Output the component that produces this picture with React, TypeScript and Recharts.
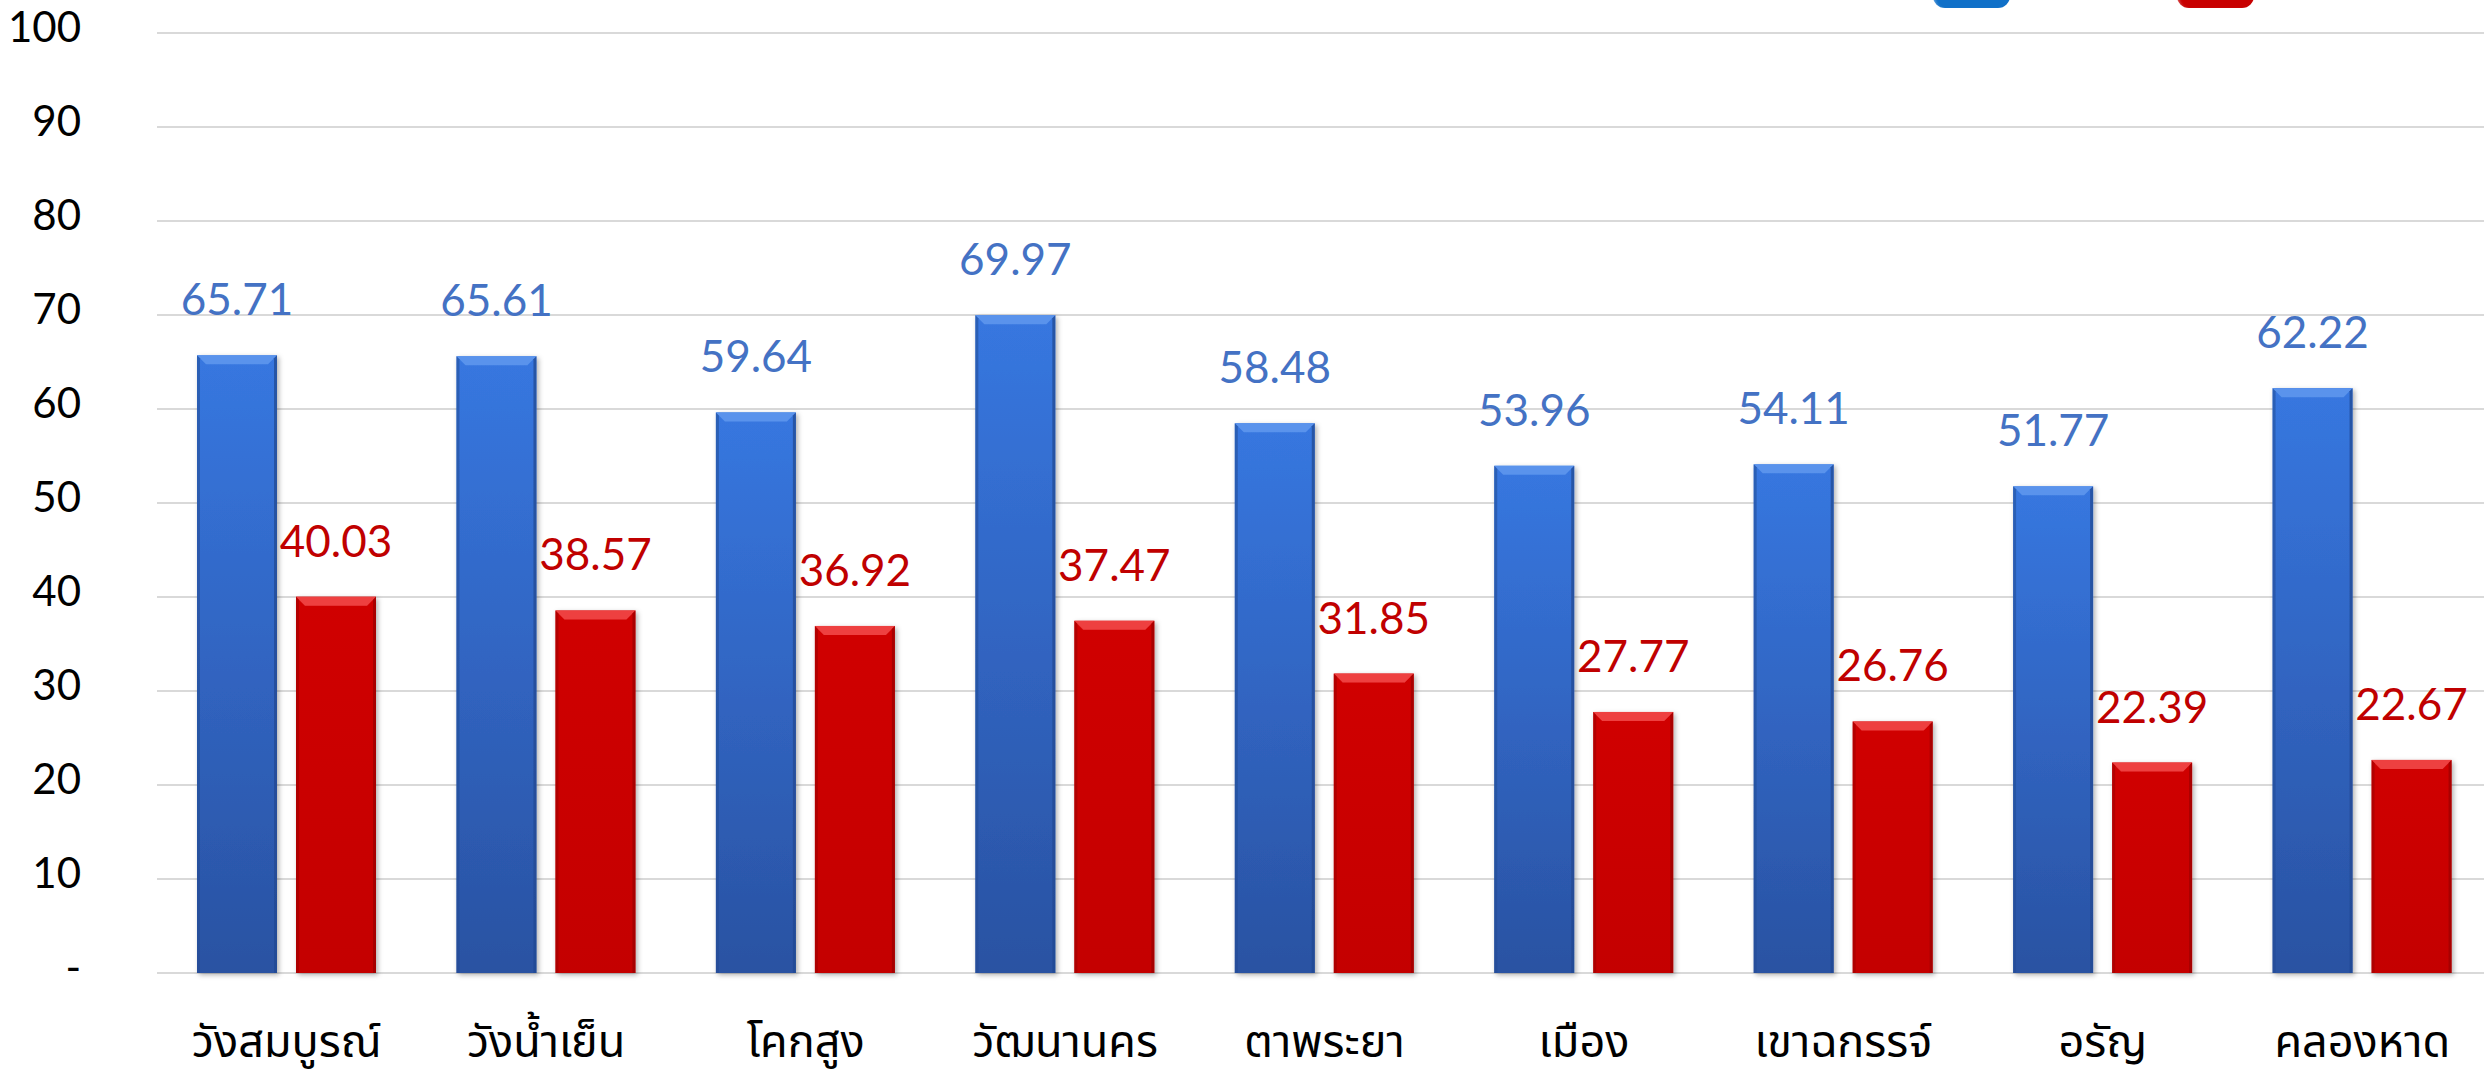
import React from 'react';
import { BarChart, Bar, XAxis, YAxis, CartesianGrid, LabelList } from 'recharts';

const categories = ['วังสมบูรณ์', 'วังน้ำเย็น', 'โคกสูง', 'วัฒนานคร', 'ตาพระยา', 'เมือง', 'เขาฉกรรจ์', 'อรัญ', 'คลองหาด'];
const blueValues = [65.71, 65.61, 59.64, 69.97, 58.48, 53.96, 54.11, 51.77, 62.22];
const redValues = [40.03, 38.57, 36.92, 37.47, 31.85, 27.77, 26.76, 22.39, 22.67];
const seriesNames = ['ชุดที่ 1', 'ชุดที่ 2'];
const yTicks = [0, 10, 20, 30, 40, 50, 60, 70, 80, 90, 100];

const data = categories.map((name, i) => ({ name, blue: blueValues[i], red: redValues[i] }));

const NUM_FONT = 'Lato, "Noto Sans", sans-serif';
const THAI_FONT = '"Noto Sans Thai", "Noto Sans Thai Looped", "Noto Sans", sans-serif';

const palette = {
  blue: { top: '#3777E0', bottom: '#2A52A2', bevel: '#5A93EC', edge: '#234A93', label: '#4472C4', legend: '#1070C8' },
  red: { top: '#D00404', bottom: '#C40000', bevel: '#EE4040', edge: '#9C0000', label: '#C00000', legend: '#C80000' },
};

function BevelBar(props: any) {
  const { x, y, width, height, tone } = props;
  if (!height || height <= 0) return null;
  const c = palette[tone as 'blue' | 'red'];
  const b = 9;
  return (
    <g filter="url(#barShadow)">
      <rect x={x} y={y} width={width} height={height} fill={`url(#grad-${tone})`} />
      <polygon points={`${x},${y} ${x + width},${y} ${x + width - b},${y + b} ${x + b},${y + b}`} fill={c.bevel} />
      <polygon points={`${x},${y} ${x + 3},${y + 3} ${x + 3},${y + height} ${x},${y + height}`} fill={c.edge} opacity={0.55} />
      <polygon points={`${x + width},${y} ${x + width - 3},${y + 3} ${x + width - 3},${y + height} ${x + width},${y + height}`} fill={c.edge} opacity={0.75} />
    </g>
  );
}

function ValueLabel(props: any) {
  const { x, y, width, value, color } = props;
  return (
    <text x={x + width / 2} y={y - 40} textAnchor="middle" fill={color} fontSize={44} fontFamily={NUM_FONT}>
      {Number(value).toFixed(2)}
    </text>
  );
}

function YTick(props: any) {
  const { x, y, payload } = props;
  return (
    <text x={x} y={y - 6} dy="0.36em" textAnchor="end" fill="#000" fontSize={42} fontFamily={NUM_FONT}>
      {payload.value === 0 ? '-' : payload.value}
    </text>
  );
}

function XTick(props: any) {
  const { x, y, payload } = props;
  return (
    <text x={x} y={y + 76} textAnchor="middle" fill="#000" fontSize={45} fontFamily={THAI_FONT}>
      {payload.value}
    </text>
  );
}

const legendItems = [
  { name: seriesNames[0], color: palette.blue.legend },
  { name: seriesNames[1], color: palette.red.legend },
];

function LegendIcons() {
  // legend sits above the visible area; only the bottom of its swatches shows
  return (
    <div style={{ position: 'absolute', top: -32, left: 1933, display: 'flex' }}>
      {legendItems.map((p) => (
        <div key={p.name} style={{ width: 244, display: 'flex', alignItems: 'flex-start', gap: 16 }}>
          <div
            style={{
              width: 77,
              height: 40,
              borderRadius: 12,
              background: p.color,
              boxShadow: 'inset 2px 2px 3px rgba(255,255,255,0.35)',
            }}
          />
          <span style={{ fontSize: 30, lineHeight: '30px', fontFamily: THAI_FONT, marginTop: -4 }}>{p.name}</span>
        </div>
      ))}
    </div>
  );
}

export default function App() {
  return (
    <div style={{ width: 2484, height: 1079, overflow: 'hidden', position: 'relative', background: '#fff' }}>
      <style>{'body{margin:0;overflow:hidden;}'}</style>
      <BarChart
        width={2492}
        height={1079}
        data={data}
        margin={{ top: 33, right: 0, bottom: 0, left: 0 }}
        barSize={80}
        barGap={19}
      >
        <defs>
          <linearGradient id="grad-blue" x1="0" y1="0" x2="0" y2="1">
            <stop offset="0%" stopColor={palette.blue.top} />
            <stop offset="100%" stopColor={palette.blue.bottom} />
          </linearGradient>
          <linearGradient id="grad-red" x1="0" y1="0" x2="0" y2="1">
            <stop offset="0%" stopColor={palette.red.top} />
            <stop offset="100%" stopColor={palette.red.bottom} />
          </linearGradient>
          <filter id="barShadow" x="-20%" y="-5%" width="140%" height="110%">
            <feDropShadow dx={2} dy={2} stdDeviation={2.5} floodColor="#000" floodOpacity={0.3} />
          </filter>
        </defs>
        <CartesianGrid horizontal vertical={false} stroke="#D9D9D9" strokeWidth={2} />
        <XAxis dataKey="name" axisLine={false} tickLine={false} height={106} tick={<XTick />} interval={0} />
        <YAxis
          domain={[0, 100]}
          ticks={yTicks}
          axisLine={false}
          tickLine={false}
          tickSize={0}
          tickMargin={76}
          width={157}
          tick={<YTick />}
          interval={0}
        />
        <Bar dataKey="blue" name={seriesNames[0]} fill={palette.blue.top} isAnimationActive={false} shape={<BevelBar tone="blue" />}>
          <LabelList dataKey="blue" content={<ValueLabel color={palette.blue.label} />} />
        </Bar>
        <Bar dataKey="red" name={seriesNames[1]} fill={palette.red.top} isAnimationActive={false} shape={<BevelBar tone="red" />}>
          <LabelList dataKey="red" content={<ValueLabel color={palette.red.label} />} />
        </Bar>
      </BarChart>
      <LegendIcons />
    </div>
  );
}
